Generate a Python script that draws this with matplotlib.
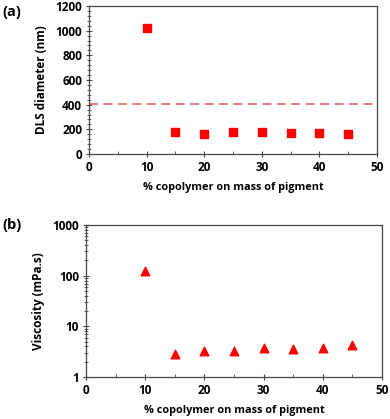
import matplotlib.pyplot as plt
from matplotlib.ticker import MultipleLocator, LogLocator, NullFormatter

# data
copolymer = [10, 15, 20, 25, 30, 35, 40, 45]
dls_diameter = [1025, 175, 165, 175, 175, 170, 170, 165]
pigment_size = 405
viscosity = [125, 2.9, 3.2, 3.3, 3.7, 3.6, 3.7, 4.3]

plt.rcParams['font.family'] = ['Open Sans', 'DejaVu Sans']
plt.rcParams['font.weight'] = 'bold'
plt.rcParams['font.size'] = 8.5

W, H = 390, 419
fig = plt.figure(figsize=(W / 100, H / 100), dpi=100)

spine_col = '#404848'

def box(l, r, t, b):
    return [l / W, 1 - b / H, (r - l) / W, (b - t) / H]

def style(ax):
    for s in ax.spines.values():
        s.set_color(spine_col)
        s.set_linewidth(0.9)
    ax.tick_params(which='major', direction='inout', length=4, width=0.8, color=spine_col, pad=3)
    ax.tick_params(which='minor', direction='inout', length=2.5, width=0.6, color=spine_col)
    ax.tick_params(axis='x', which='minor', direction='in')
    ax.tick_params(top=False, right=False)
    ax.set_xlim(0, 50)
    ax.xaxis.set_major_locator(MultipleLocator(10))
    ax.xaxis.set_minor_locator(MultipleLocator(5))
    ax.set_xlabel('% copolymer on mass of pigment', fontweight='bold', fontsize=7.8, labelpad=6)

# (a) DLS diameter
ax1 = fig.add_axes(box(89, 377, 6, 154))
ax1.scatter(copolymer, dls_diameter, marker='s', s=32, color='#ff0000', zorder=3)
ax1.axhline(pigment_size, color='#e87070', linestyle=(0, (5, 3)), linewidth=1.3)
ax1.set_ylim(0, 1200)
ax1.yaxis.set_major_locator(MultipleLocator(200))
ax1.yaxis.set_minor_locator(MultipleLocator(40))
ax1.set_ylabel('DLS diameter (nm)', fontweight='bold', labelpad=5)
style(ax1)
fig.text(2 / W, 1 - 12 / H, '(a)', fontsize=10.5, fontweight='bold', va='center')

# (b) viscosity
ax2 = fig.add_axes(box(86, 382, 225, 377))
ax2.scatter(copolymer, viscosity, marker='^', s=38, color='#ff0000', zorder=3)
ax2.set_yscale('log')
ax2.set_ylim(1, 1000)
ax2.yaxis.set_major_locator(LogLocator(base=10))
ax2.yaxis.set_minor_locator(LogLocator(base=10, subs=range(2, 10)))
ax2.yaxis.set_minor_formatter(NullFormatter())
ax2.set_yticks([1, 10, 100, 1000], ['1', '10', '100', '1000'])
ax2.set_ylabel('Viscosity (mPa.s)', fontweight='bold', labelpad=5)
style(ax2)
fig.text(2 / W, 1 - 225 / H, '(b)', fontsize=10.5, fontweight='bold', va='center')

fig.savefig('out.png', dpi=100)
